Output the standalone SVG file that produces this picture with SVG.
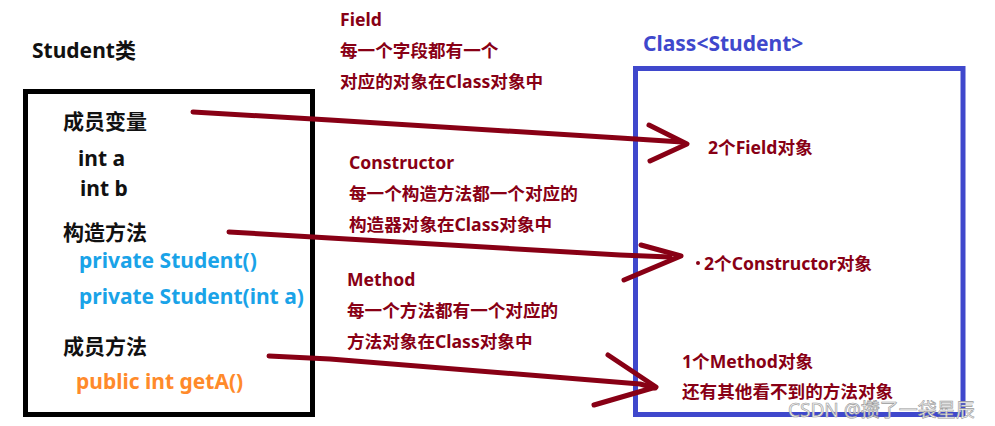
<svg xmlns="http://www.w3.org/2000/svg" width="995" height="426" viewBox="0 0 995 426">
<style>
text{font-family:"Noto Sans","Noto Sans CJK SC",sans-serif;font-weight:bold}
.blk{fill:#111;font-size:21px}
.blue{fill:#1aa3e8;font-size:21px}
.org{fill:#ff8a2a;font-size:21px}
.red{fill:#880015;font-size:17.6px}
.cls{fill:#3f48cc;font-size:21px}
.wm{fill:#f2f2f2;stroke:#9a9a9a;stroke-width:0.6px;font-weight:normal;font-size:19px}
.box{fill:none}
.arr{fill:none;stroke:#880015;stroke-width:5;stroke-linecap:round;stroke-linejoin:round}
</style>
<rect width="995" height="426" fill="#fff"/>
<g id="student">
<text x="32" y="58" class="blk">Student类</text>
<rect class="box" x="25.5" y="91.5" width="287" height="323" stroke="#000" stroke-width="5"/>
<text x="63" y="129" class="blk">成员变量</text>
<text x="78" y="166" class="blk">int a</text>
<text x="80" y="196" class="blk">int b</text>
<text x="63" y="240" class="blk">构造方法</text>
<text x="79" y="268" class="blue">private Student()</text>
<text x="79" y="304" class="blue">private Student(int a)</text>
<text x="63" y="354" class="blk">成员方法</text>
<text x="76" y="389" class="org">public int getA()</text>
</g>
<g id="labels">
<text x="340" y="26" class="red">Field</text>
<text x="340" y="57" class="red">每一个字段都有一个</text>
<text x="340" y="88" class="red">对应的对象在Class对象中</text>
<text x="349" y="169" class="red">Constructor</text>
<text x="349" y="200" class="red">每一个构造方法都一个对应的</text>
<text x="349" y="231" class="red">构造器对象在Class对象中</text>
<text x="347" y="286" class="red">Method</text>
<text x="347" y="317" class="red">每一个方法都有一个对应的</text>
<text x="347" y="348" class="red">方法对象在Class对象中</text>
</g>
<g id="classobj">
<text x="643" y="51" class="cls">Class&lt;Student&gt;</text>
<rect class="box" x="635.5" y="68.5" width="327.5" height="346" stroke="#3f48cc" stroke-width="5"/>
<text x="708" y="154" class="red">2个Field对象</text>
<circle cx="698" cy="263" r="2" fill="#880015"/>
<text x="704" y="270" class="red">2个Constructor对象</text>
<text x="682" y="368" class="red">1个Method对象</text>
<text x="682" y="398" class="red">还有其他看不到的方法对象</text>
</g>
<g id="connectors">
<path class="arr" d="M193,112 L330,120 L620,138 L682,142"/>
<path class="arr" d="M649,125 L687,144 L650,161"/>
<path class="arr" d="M229,232 L330,238 L620,255 L670,257"/>
<path class="arr" d="M641,245 L681,256 L624,280"/>
<path class="arr" d="M269,356 L330,359 L640,384 L655,388"/>
<path class="arr" d="M608,355 L656,387 L594,405"/>
</g>
<text x="788" y="417" class="wm">CSDN @攒了一袋星辰</text>
</svg>
